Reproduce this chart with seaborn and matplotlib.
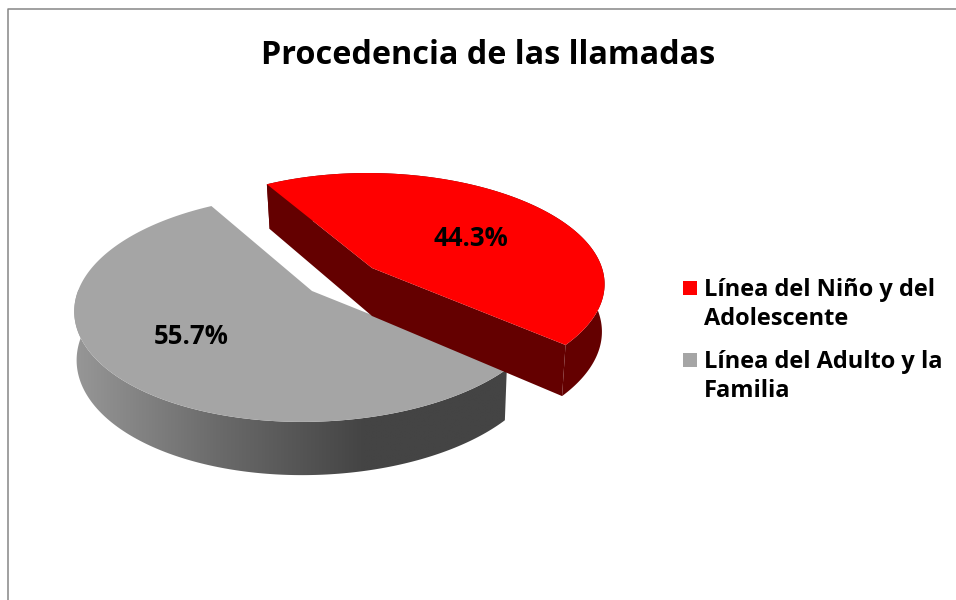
import numpy as np
import matplotlib
matplotlib.use('Agg')
import matplotlib.pyplot as plt
from matplotlib.patches import Polygon
import seaborn as sns

title = 'Procedencia de las llamadas'
categories = ['Línea del Niño y del\nAdolescente', 'Línea del Adulto y la\nFamilia']
values = [44.3, 55.7]
percent_labels = ['44.3%', '55.7%']
top_colors = ['#FF0000', '#A5A5A5']

sns.set_theme(style='white')
plt.rcParams['font.family'] = ['Open Sans', 'DejaVu Sans']

# view of the tilted disc, all in pixels
start_angle = 120.0
persp = 0.152
depth = 48
apex = [(372, 268), (312, 291)]
radius_x = [230, 234]
radius_y = [109.4, 111]
skew = [0.0, -0.05]
bend = [-0.0005, -0.0002]
bottom_scale = [0.99, 0.99]
bottom_skew = [-0.02, 0.0]
label_pos = [(471, 239), (191, 336)]
wall_steps = sns.blend_palette(['#979797', '#6a6a6a', '#444444', '#444444'], 256)


def project(i, theta, bottom=False):
    xx = np.cos(theta)
    yy = np.sin(theta)
    s = 1 / (1 + persp * yy)
    py = -radius_y[i] * yy * s
    px = radius_x[i] * xx * s + skew[i] * py + bend[i] * py ** 2
    if bottom:
        px = px * bottom_scale[i] + bottom_skew[i] * py
        py = py * 1.04 + depth
    return apex[i][0] + px, apex[i][1] + py


fig = plt.figure(figsize=(9.56, 6), dpi=100)
ax = fig.add_axes([0, 0, 1, 1])

# slice angles come from the values, clockwise from start_angle
spans = np.array(values) / sum(values) * 360
ends = start_angle - np.cumsum(spans)
starts = ends + spans

# gray slice first, red one sits in front of it
for i in [1, 0]:
    cx, cy = apex[i]
    thetas = np.radians(np.linspace(starts[i], ends[i], 240))
    tx, ty = project(i, thetas)
    bx, by = project(i, thetas, bottom=True)
    wall = np.c_[np.r_[tx, bx[::-1]], np.r_[ty, by[::-1]]]

    if i == 1:
        # outer wall shaded left to right
        shade = np.array(wall_steps)[np.newaxis, :, :]
        img = ax.imshow(shade, extent=[74, 510, 490, 290], aspect='auto', zorder=1, interpolation='bilinear')
        img.set_clip_path(Polygon(wall, closed=True, transform=ax.transData))
    else:
        ax.fill(wall[:, 0], wall[:, 1], color='#640000', lw=0, zorder=5)
        # cut faces
        ax.fill([tx[0], cx, cx, bx[0]], [ty[0], cy, cy + depth, by[0]], color='#640000', lw=0, zorder=5)
        ax.fill([tx[-1], cx, cx, bx[-1]], [ty[-1], cy, cy + depth, by[-1]], color='#640000', lw=0, zorder=5)

    ax.fill(np.r_[cx, tx], np.r_[cy, ty], color=top_colors[i], lw=0, zorder=6 if i == 0 else 2)
    ax.text(label_pos[i][0], label_pos[i][1], percent_labels[i], ha='center', va='center',
            fontsize=18.5, fontweight='bold', color='black', zorder=10)

ax.text(488, 55, title, ha='center', va='center', fontsize=23.3, fontweight='bold', color='black')

# legend
legend_y = [288, 360]
for i in range(2):
    ax.scatter([690.5], [legend_y[i]], marker='s', s=115, color=top_colors[i], lw=0)
    ax.text(704, legend_y[i] - 9.5, categories[i], ha='left', va='top', fontsize=17, fontweight='bold',
            color='black', linespacing=1.25)

# chart frame
ax.plot([8, 8, 956], [600, 8.5, 8.5], color='#868686', lw=1.1, clip_on=False)

ax.set_xlim(0, 956)
ax.set_ylim(600, 0)
ax.axis('off')

fig.savefig('out.png', dpi=100)
